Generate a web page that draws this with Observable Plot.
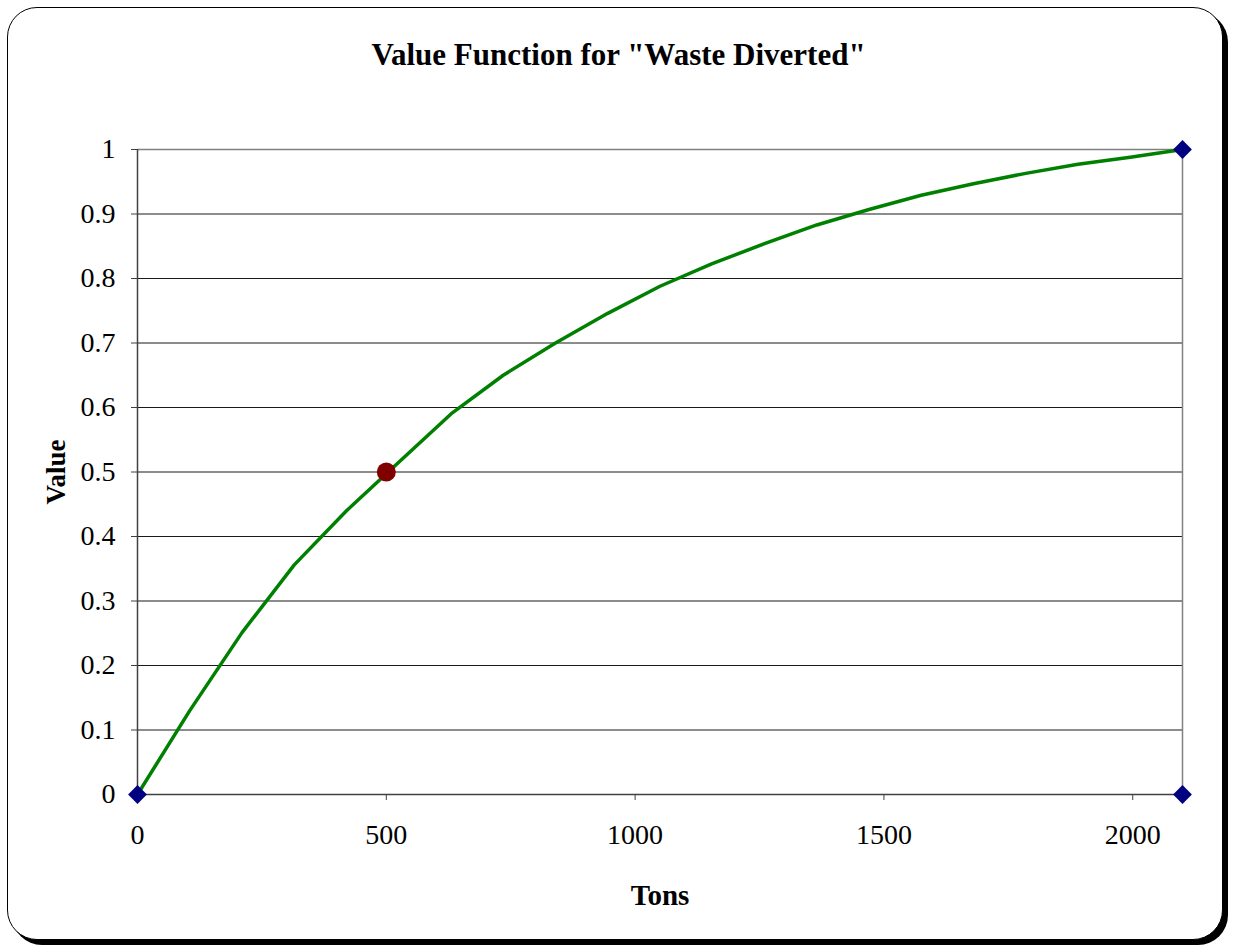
<!DOCTYPE html>
<html>
<head>
<meta charset="utf-8">
<script src="https://cdn.jsdelivr.net/npm/d3@7"></script>
<script src="https://cdn.jsdelivr.net/npm/@observablehq/plot@0.6"></script>
<style>
  html, body { margin: 0; padding: 0; background: #fff; }
  #wrap { position: relative; width: 1237px; height: 949px; overflow: hidden; }
  #frame {
    position: absolute; left: 7px; top: 7px; width: 1216px; height: 933px;
    border: 1.5px solid #000; border-radius: 30px; box-shadow: 5px 5px 0 #000;
    background: #fff; box-sizing: border-box;
  }
  #title {
    position: absolute; left: 0; width: 1237px; top: 37px; text-align: center;
    font-family: "Liberation Serif", "Times New Roman", serif; font-weight: bold;
    font-size: 31px; color: #000;
  }
  #chart { position: absolute; left: 0; top: 0; }
  #chart svg { font-family: "Liberation Serif", "Times New Roman", serif; }
</style>
</head>
<body>
<div id="wrap">
  <div id="frame"></div>
  <div id="title">Value Function for "Waste Diverted"</div>
  <div id="chart"></div>
</div>
<script>
// Data
const tons   = [0, 105, 210, 315, 420, 525, 630, 735, 840, 945, 1050, 1155, 1260, 1365, 1470, 1575, 1680, 1785, 1890, 1995, 2100];
const values = [0, 0.13, 0.251, 0.356, 0.44, 0.515, 0.59, 0.65, 0.70, 0.746, 0.788, 0.823, 0.854, 0.883, 0.907, 0.929, 0.947, 0.963, 0.977, 0.988, 1];
const anchorTons   = [0, 2100, 2100];
const anchorValues = [0, 1, 0];
const pointTons   = [500];
const pointValues = [0.5];
const xTicks = [0, 500, 1000, 1500, 2000];
const yTicks = [0, 0.1, 0.2, 0.3, 0.4, 0.5, 0.6, 0.7, 0.8, 0.9, 1];
const xLabel = "Tons";
const yLabel = "Value";

const curve = tons.map((t, i) => ({t, v: values[i]}));
const anchors = anchorTons.map((t, i) => ({t, v: anchorValues[i]}));
const points = pointTons.map((t, i) => ({t, v: pointValues[i]}));
const innerGrid = yTicks.filter(d => d > 0 && d < 1);

const chart = Plot.plot({
  width: 1237,
  height: 949,
  marginLeft: 137,
  marginRight: 55,
  marginTop: 149,
  marginBottom: 155,
  style: { fontFamily: '"Liberation Serif", "Times New Roman", serif', background: "transparent", overflow: "visible" },
  x: { domain: [0, 2100] },
  y: { domain: [0, 1] },
  marks: [
    Plot.ruleY(innerGrid, { stroke: "#000", strokeWidth: 1, strokeOpacity: 0.9 }),
    Plot.ruleY([1], { stroke: "#808080", strokeWidth: 1.5 }),
    Plot.ruleX([2100], { stroke: "#808080", strokeWidth: 1.5 }),
    Plot.ruleX([0], { stroke: "#404040", strokeWidth: 1.5 }),
    Plot.ruleY([0], { stroke: "#404040", strokeWidth: 1.5 }),
    Plot.axisY({ ticks: yTicks, tickFormat: d => String(+d.toFixed(1)), tickSize: 6, tickPadding: 16, fontSize: 28, stroke: "#404040",
      label: yLabel, labelAnchor: "center", labelArrow: "none", labelOffset: 92, fill: "#000" }),
    Plot.axisX({ ticks: xTicks, tickFormat: d => String(d), tickSize: 6, tickPadding: 24, fontSize: 28, stroke: "#404040",
      label: xLabel, labelAnchor: "center", labelArrow: "none", labelOffset: 110, fill: "#000" }),
    Plot.line(curve, { x: "t", y: "v", stroke: "#008000", strokeWidth: 3.5, strokeLinejoin: "round" }),
    Plot.dot(anchors, { x: "t", y: "v", symbol: "square", rotate: 45, r: 7.5, fill: "#000080", stroke: "none" }),
    Plot.dot(points, { x: "t", y: "v", r: 9.5, fill: "#800000", stroke: "none" })
  ]
});
document.getElementById("chart").appendChild(chart);

// Style axis labels (bold, like the reference)
chart.querySelectorAll("[aria-label='y-axis label'] text, [aria-label='x-axis label'] text").forEach(t => {
  t.setAttribute("font-weight", "bold");
});
const yl = chart.querySelector("[aria-label='y-axis label']");
if (yl) yl.setAttribute("font-size", "27");
const xl = chart.querySelector("[aria-label='x-axis label']");
if (xl) xl.setAttribute("font-size", "29");
</script>
</body>
</html>
